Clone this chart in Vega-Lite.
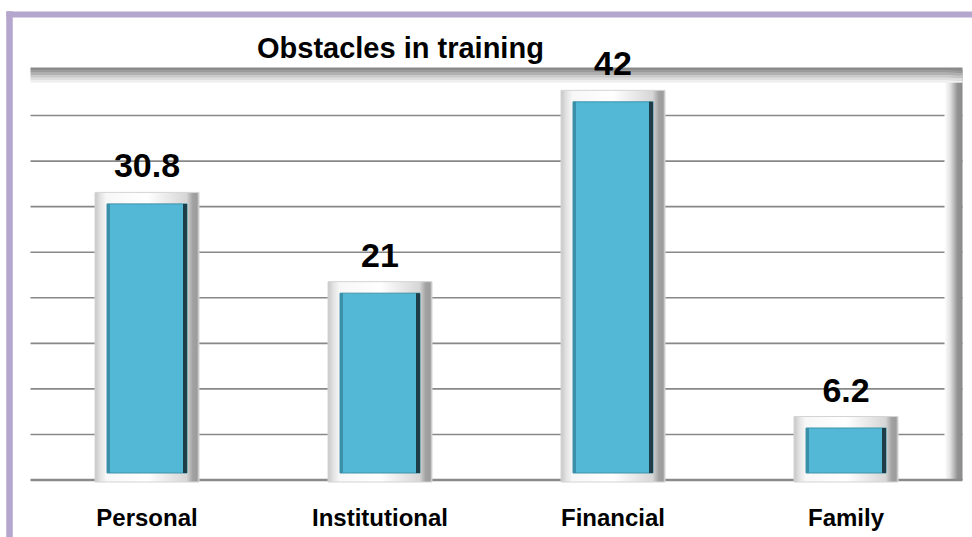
{
  "$schema": "https://vega.github.io/schema/vega-lite/v6.json",
  "width": 963,
  "height": 523,
  "autosize": {"type": "none"},
  "padding": {"left": 9, "top": 14, "right": 0, "bottom": 0},
  "background": "white",
  "title": {
    "text": "Obstacles in training",
    "anchor": "start",
    "frame": "group",
    "dx": 248,
    "offset": -73,
    "baseline": "alphabetic",
    "font": "Liberation Sans",
    "fontSize": 29,
    "fontWeight": "bold",
    "color": "#000000"
  },
  "config": {
    "view": {"stroke": null}
  },
  "datasets": {
    "bars": [
      {"category": "Personal", "value": 30.8},
      {"category": "Institutional", "value": 21},
      {"category": "Financial", "value": 42},
      {"category": "Family", "value": 6.2}
    ],
    "grid": [
      {"tick": 5}, {"tick": 10}, {"tick": 15}, {"tick": 20},
      {"tick": 25}, {"tick": 30}, {"tick": 35}, {"tick": 40}
    ],
    "one": [{"row": 1}]
  },
  "resolve": {"axis": {"x": "independent", "y": "independent"}},
  "layer": [
    {
      "data": {"name": "grid"},
      "mark": {"type": "rule", "stroke": "#888888", "strokeWidth": 1.6, "xOffset": -116.5, "x2Offset": 116.5},
      "encoding": {
        "y": {"field": "tick", "type": "quantitative", "scale": {"domain": [-6.256, 51.146], "nice": false, "zero": false}, "axis": {"orient": "left", "labels": false, "ticks": false, "grid": false, "title": null, "domainColor": "#b4a6cd", "domainWidth": 6.5, "domainCap": "square"}},
        "x": {"datum": "Personal", "type": "nominal", "scale": {"type": "band", "domain": ["Personal", "Institutional", "Financial", "Family"], "paddingInner": 0, "paddingOuter": 0.0665, "align": 0.694}, "axis": null},
        "x2": {"datum": "Family"}
      }
    },
    {
      "data": {"name": "one"},
      "mark": {"type": "bar", "size": 18, "xOffset": 107.5, "fill": {"gradient": "linear", "x1": 0, "x2": 1, "y1": 0, "y2": 0, "stops": [{"offset": 0, "color": "#ffffff"}, {"offset": 0.3, "color": "#e4e4e4"}, {"offset": 0.55, "color": "#b4b4b4"}, {"offset": 0.72, "color": "#939393"}, {"offset": 1, "color": "#8a8a8a"}]}},
      "encoding": {
        "y": {"datum": 45, "type": "quantitative", "scale": {"domain": [-6.256, 51.146], "nice": false, "zero": false}, "axis": null},
        "y2": {"datum": 0},
        "x": {"datum": "Family", "type": "nominal", "scale": {"type": "band", "domain": ["Personal", "Institutional", "Financial", "Family"], "paddingInner": 0, "paddingOuter": 0.0665, "align": 0.694}, "axis": null}
      }
    },
    {
      "data": {"name": "one"},
      "mark": {"type": "rule", "stroke": "#f0f0f0", "strokeWidth": 2.5, "yOffset": 11.5, "xOffset": -116.5, "x2Offset": 116.5},
      "encoding": {
        "y": {"datum": 45, "type": "quantitative", "scale": {"domain": [-6.256, 51.146], "nice": false, "zero": false}, "axis": null},
        "x": {"datum": "Personal", "type": "nominal", "scale": {"type": "band", "domain": ["Personal", "Institutional", "Financial", "Family"], "paddingInner": 0, "paddingOuter": 0.0665, "align": 0.694}, "axis": null},
        "x2": {"datum": "Family"}
      }
    },
    {
      "data": {"name": "one"},
      "mark": {"type": "rule", "stroke": "#dedede", "strokeWidth": 2.5, "yOffset": 9, "xOffset": -116.5, "x2Offset": 116.5},
      "encoding": {
        "y": {"datum": 45, "type": "quantitative", "scale": {"domain": [-6.256, 51.146], "nice": false, "zero": false}, "axis": null},
        "x": {"datum": "Personal", "type": "nominal", "scale": {"type": "band", "domain": ["Personal", "Institutional", "Financial", "Family"], "paddingInner": 0, "paddingOuter": 0.0665, "align": 0.694}, "axis": null},
        "x2": {"datum": "Family"}
      }
    },
    {
      "data": {"name": "one"},
      "mark": {"type": "rule", "stroke": "#c8c8c8", "strokeWidth": 2.5, "yOffset": 6.5, "xOffset": -116.5, "x2Offset": 116.5},
      "encoding": {
        "y": {"datum": 45, "type": "quantitative", "scale": {"domain": [-6.256, 51.146], "nice": false, "zero": false}, "axis": null},
        "x": {"datum": "Personal", "type": "nominal", "scale": {"type": "band", "domain": ["Personal", "Institutional", "Financial", "Family"], "paddingInner": 0, "paddingOuter": 0.0665, "align": 0.694}, "axis": null},
        "x2": {"datum": "Family"}
      }
    },
    {
      "data": {"name": "one"},
      "mark": {"type": "rule", "stroke": "#b0b0b0", "strokeWidth": 2.5, "yOffset": 4, "xOffset": -116.5, "x2Offset": 116.5},
      "encoding": {
        "y": {"datum": 45, "type": "quantitative", "scale": {"domain": [-6.256, 51.146], "nice": false, "zero": false}, "axis": null},
        "x": {"datum": "Personal", "type": "nominal", "scale": {"type": "band", "domain": ["Personal", "Institutional", "Financial", "Family"], "paddingInner": 0, "paddingOuter": 0.0665, "align": 0.694}, "axis": null},
        "x2": {"datum": "Family"}
      }
    },
    {
      "data": {"name": "one"},
      "mark": {"type": "rule", "stroke": "#9a9a9a", "strokeWidth": 2.5, "yOffset": 1.5, "xOffset": -116.5, "x2Offset": 116.5},
      "encoding": {
        "y": {"datum": 45, "type": "quantitative", "scale": {"domain": [-6.256, 51.146], "nice": false, "zero": false}, "axis": null},
        "x": {"datum": "Personal", "type": "nominal", "scale": {"type": "band", "domain": ["Personal", "Institutional", "Financial", "Family"], "paddingInner": 0, "paddingOuter": 0.0665, "align": 0.694}, "axis": null},
        "x2": {"datum": "Family"}
      }
    },
    {
      "data": {"name": "one"},
      "mark": {"type": "rule", "stroke": "#8a8a8a", "strokeWidth": 3, "yOffset": -1, "xOffset": -116.5, "x2Offset": 116.5},
      "encoding": {
        "y": {"datum": 45, "type": "quantitative", "scale": {"domain": [-6.256, 51.146], "nice": false, "zero": false}, "axis": null},
        "x": {"datum": "Personal", "type": "nominal", "scale": {"type": "band", "domain": ["Personal", "Institutional", "Financial", "Family"], "paddingInner": 0, "paddingOuter": 0.0665, "align": 0.694}, "axis": {"orient": "top", "labels": false, "ticks": false, "title": null, "grid": false, "domainColor": "#b4a6cd", "domainWidth": 6, "domainCap": "square"}},
        "x2": {"datum": "Family"}
      }
    },
    {
      "data": {"name": "one"},
      "mark": {"type": "rule", "stroke": "#8a8a8a", "strokeWidth": 2.5, "xOffset": -116.5, "x2Offset": 116.5},
      "encoding": {
        "y": {"datum": 0, "type": "quantitative", "scale": {"domain": [-6.256, 51.146], "nice": false, "zero": false}, "axis": null},
        "x": {"datum": "Personal", "type": "nominal", "scale": {"type": "band", "domain": ["Personal", "Institutional", "Financial", "Family"], "paddingInner": 0, "paddingOuter": 0.0665, "align": 0.694}, "axis": null},
        "x2": {"datum": "Family"}
      }
    },
    {
      "data": {"name": "bars"},
      "mark": {"type": "bar", "size": 104, "yOffset": -7, "y2Offset": 2, "stroke": "#d4d4d4", "strokeWidth": 1, "fill": {"gradient": "linear", "x1": 0, "x2": 1, "y1": 0, "y2": 0, "stops": [{"offset": 0, "color": "#c6c6c6"}, {"offset": 0.05, "color": "#e2e2e2"}, {"offset": 0.11, "color": "#f7f7f7"}, {"offset": 0.5, "color": "#ffffff"}, {"offset": 0.88, "color": "#d6d6d6"}, {"offset": 0.94, "color": "#a2a2a2"}, {"offset": 0.98, "color": "#9c9c9c"}, {"offset": 1, "color": "#cccccc"}]}},
      "encoding": {
        "x": {"field": "category", "type": "nominal", "scale": {"type": "band", "domain": ["Personal", "Institutional", "Financial", "Family"], "paddingInner": 0, "paddingOuter": 0.0665, "align": 0.694}, "axis": {"orient": "bottom", "title": null, "domain": false, "ticks": false, "grid": false, "labelPadding": 0, "offset": -12, "labelBaseline": "alphabetic", "labelAngle": 0, "labelFont": "Liberation Sans", "labelFontSize": 24, "labelFontWeight": "bold", "labelColor": "#000000"}},
        "y": {"field": "value", "type": "quantitative", "scale": {"domain": [-6.256, 51.146], "nice": false, "zero": false}, "axis": null},
        "y2": {"datum": 0}
      }
    },
    {
      "data": {"name": "bars"},
      "mark": {"type": "bar", "size": 80, "yOffset": 4.5, "y2Offset": -7, "fill": "#53b8d6", "stroke": "#3f93ab", "strokeWidth": 1},
      "encoding": {
        "x": {"field": "category", "type": "nominal", "scale": {"type": "band", "domain": ["Personal", "Institutional", "Financial", "Family"], "paddingInner": 0, "paddingOuter": 0.0665, "align": 0.694}, "axis": null},
        "y": {"field": "value", "type": "quantitative", "scale": {"domain": [-6.256, 51.146], "nice": false, "zero": false}, "axis": null},
        "y2": {"datum": 0}
      }
    },
    {
      "data": {"name": "bars"},
      "mark": {"type": "bar", "size": 3, "xOffset": -38.5, "yOffset": 4.5, "y2Offset": -7, "fill": "#3a90a9"},
      "encoding": {
        "x": {"field": "category", "type": "nominal", "scale": {"type": "band", "domain": ["Personal", "Institutional", "Financial", "Family"], "paddingInner": 0, "paddingOuter": 0.0665, "align": 0.694}, "axis": null},
        "y": {"field": "value", "type": "quantitative", "scale": {"domain": [-6.256, 51.146], "nice": false, "zero": false}, "axis": null},
        "y2": {"datum": 0}
      }
    },
    {
      "data": {"name": "bars"},
      "mark": {"type": "bar", "size": 4, "xOffset": 38, "yOffset": 4.5, "y2Offset": -7, "fill": "#1e3d47"},
      "encoding": {
        "x": {"field": "category", "type": "nominal", "scale": {"type": "band", "domain": ["Personal", "Institutional", "Financial", "Family"], "paddingInner": 0, "paddingOuter": 0.0665, "align": 0.694}, "axis": null},
        "y": {"field": "value", "type": "quantitative", "scale": {"domain": [-6.256, 51.146], "nice": false, "zero": false}, "axis": null},
        "y2": {"datum": 0}
      }
    },
    {
      "data": {"name": "bars"},
      "mark": {"type": "text", "dy": -22, "baseline": "alphabetic", "align": "center", "font": "Liberation Sans", "fontSize": 34, "fontWeight": "bold", "color": "#000000"},
      "encoding": {
        "x": {"field": "category", "type": "nominal", "scale": {"type": "band", "domain": ["Personal", "Institutional", "Financial", "Family"], "paddingInner": 0, "paddingOuter": 0.0665, "align": 0.694}, "axis": null},
        "y": {"field": "value", "type": "quantitative", "scale": {"domain": [-6.256, 51.146], "nice": false, "zero": false}, "axis": null},
        "text": {"field": "value", "type": "quantitative"}
      }
    }
  ]
}
